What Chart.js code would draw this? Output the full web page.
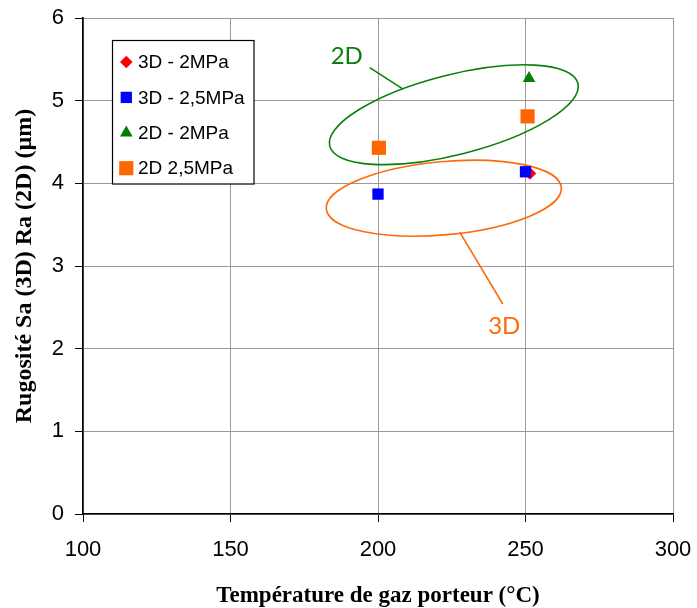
<!DOCTYPE html>
<html>
<head>
<meta charset="utf-8">
<script src="https://cdn.jsdelivr.net/npm/chart.js@4.4.1/dist/chart.umd.min.js"></script>
<style>
  html, body { margin: 0; padding: 0; background: #fff; }
  #wrap { width: 697px; height: 608px; position: relative; }
</style>
</head>
<body>
<div id="wrap"><canvas id="c" width="697" height="608"></canvas></div>
<script>
// ---- data ----
const xTickValues = [100, 150, 200, 250, 300];
const yTickValues = [0, 1, 2, 3, 4, 5, 6];
const seriesNames = ['3D - 2MPa', '3D - 2,5MPa', '2D - 2MPa', '2D 2,5MPa'];
const temp3D_2MPa = [251.5];
const rough3D_2MPa = [4.12];
const temp3D_25MPa = [200, 250];
const rough3D_25MPa = [3.87, 4.14];
const temp2D_2MPa = [251.2];
const rough2D_2MPa = [5.27];
const temp2D_25MPa = [200.3, 250.7];
const rough2D_25MPa = [4.43, 4.81];

// annotation anchors (data coordinates)
const groupLabels = ['2D', '3D'];
const groupCenterX = [225.7, 222.3];
const groupCenterY = [4.83, 3.82];
const leaderFromX = [197.2, 227.7];
const leaderFromY = [5.40, 3.41];
const leaderToX = [208.5, 242.3];
const leaderToY = [5.14, 2.54];
const labelX = [189.4, 242.8];
const labelY = [5.54, 2.27];

// ---- styling ----
const ellipseStyle = [
  { color: '#0a800a', a: 128, b: 40, rot: -14.2 },
  { color: '#ff6a0a', a: 118, b: 36.6, rot: -5.2 }
];
const seriesStyle = [
  { color: '#ff0000', shape: 'rectRot', r: 6.3, order: 2 },
  { color: '#0000ff', shape: 'rect', r: 8, order: 1 },
  { color: '#008000', shape: 'triangle', r: 7.3, order: 3 },
  { color: '#ff6600', shape: 'rect', r: 10, order: 4 }
];

function pts(xs, ys) { return xs.map((x, i) => ({ x: x, y: ys[i] })); }
const seriesData = [
  pts(temp3D_2MPa, rough3D_2MPa),
  pts(temp3D_25MPa, rough3D_25MPa),
  pts(temp2D_2MPa, rough2D_2MPa),
  pts(temp2D_25MPa, rough2D_25MPa)
];

function drawMarker(ctx, shape, r, x, y, color) {
  ctx.save();
  ctx.fillStyle = color;
  ctx.beginPath();
  if (shape === 'rect') {
    const s = r * Math.SQRT1_2;
    ctx.rect(x - s, y - s, 2 * s, 2 * s);
  } else if (shape === 'rectRot') {
    ctx.moveTo(x, y - r); ctx.lineTo(x + r, y); ctx.lineTo(x, y + r); ctx.lineTo(x - r, y);
    ctx.closePath();
  } else if (shape === 'triangle') {
    for (let k = 0; k < 3; k++) {
      const ang = -Math.PI / 2 + k * 2 * Math.PI / 3;
      const px = x + Math.cos(ang) * r, py = y + Math.sin(ang) * r;
      if (k === 0) ctx.moveTo(px, py); else ctx.lineTo(px, py);
    }
    ctx.closePath();
  }
  ctx.fill();
  ctx.restore();
}

const annotationPlugin = {
  id: 'groups',
  beforeDatasetsDraw(chart) {
    const ctx = chart.ctx, xs = chart.scales.x, ys = chart.scales.y;
    ctx.save();
    groupLabels.forEach((lab, i) => {
      const st = ellipseStyle[i];
      ctx.strokeStyle = st.color;
      ctx.lineWidth = 1.6;
      ctx.beginPath();
      ctx.ellipse(xs.getPixelForValue(groupCenterX[i]), ys.getPixelForValue(groupCenterY[i]),
        st.a, st.b, st.rot * Math.PI / 180, 0, 2 * Math.PI);
      ctx.stroke();
      ctx.beginPath();
      ctx.moveTo(xs.getPixelForValue(leaderFromX[i]), ys.getPixelForValue(leaderFromY[i]));
      ctx.lineTo(xs.getPixelForValue(leaderToX[i]), ys.getPixelForValue(leaderToY[i]));
      ctx.stroke();
      ctx.fillStyle = st.color;
      ctx.font = '24px Lato, "Open Sans", sans-serif';
      ctx.textAlign = 'center';
      ctx.textBaseline = 'middle';
      ctx.fillText(lab, xs.getPixelForValue(labelX[i]), ys.getPixelForValue(labelY[i]));
    });
    ctx.restore();
  }
};

const legendPlugin = {
  id: 'boxLegend',
  afterDraw(chart) {
    const ctx = chart.ctx;
    const bx = 112.5, by = 40.5, bw = 141.5, bh = 143.5;
    ctx.save();
    ctx.fillStyle = '#fff';
    ctx.fillRect(bx, by, bw, bh);
    ctx.strokeStyle = '#000';
    ctx.lineWidth = 1.2;
    ctx.strokeRect(bx, by, bw, bh);
    ctx.font = '19px "Liberation Sans", Arial, sans-serif';
    ctx.textBaseline = 'middle';
    ctx.textAlign = 'left';
    ctx.fillStyle = '#000';
    seriesNames.forEach((name, i) => {
      const y = 62 + i * 35.4;
      const st = seriesStyle[i];
      drawMarker(ctx, st.shape, st.r, 126.3, y, st.color);
      ctx.fillStyle = '#000';
      ctx.fillText(name, 138, y + 1);
    });
    ctx.restore();
  }
};

Chart.defaults.font.family = '"Liberation Sans", Arial, sans-serif';
Chart.defaults.color = '#000';

new Chart(document.getElementById('c'), {
  type: 'scatter',
  data: {
    datasets: seriesNames.map((name, i) => ({
      label: name,
      data: seriesData[i],
      pointStyle: seriesStyle[i].shape,
      pointRadius: seriesStyle[i].r,
      pointHoverRadius: seriesStyle[i].r,
      backgroundColor: seriesStyle[i].color,
      borderColor: seriesStyle[i].color,
      borderWidth: 0,
      order: seriesStyle[i].order
    }))
  },
  options: {
    responsive: false,
    animation: false,
    events: [],
    layout: { padding: { left: 0, top: 18, right: 24, bottom: 0 } },
    plugins: { legend: { display: false }, tooltip: { enabled: false } },
    scales: {
      x: {
        type: 'linear',
        min: 100, max: 300,
        afterBuildTicks(scale) { scale.ticks = xTickValues.map(v => ({ value: v })); },
        afterFit(scale) { scale.height = 94; scale.paddingLeft = 0; scale.paddingRight = 0; },
        grid: { color: '#9a9a9a', lineWidth: 1, tickColor: '#000', tickLength: 8, drawTicks: true },
        border: { color: '#000', width: 1.6 },
        ticks: { font: { size: 22 }, padding: 15, maxRotation: 0, color: '#000' },
        title: {
          display: true,
          text: 'Température de gaz porteur (°C)',
          font: { family: '"Liberation Serif", "Times New Roman", serif', size: 23, weight: 'bold', lineHeight: 1.05 },
          padding: { top: 0, bottom: 0 },
          color: '#000'
        }
      },
      y: {
        type: 'linear',
        min: 0, max: 6,
        afterBuildTicks(scale) { scale.ticks = yTickValues.map(v => ({ value: v })); },
        afterFit(scale) { scale.width = 83; scale.paddingTop = 0; scale.paddingBottom = 0; },
        grid: { color: '#9a9a9a', lineWidth: 1, tickColor: '#000', tickLength: 8, drawTicks: true },
        border: { color: '#000', width: 1.6 },
        ticks: { font: { size: 22 }, padding: 11, color: '#000' },
        title: {
          display: true,
          text: 'Rugosité Sa (3D) Ra (2D) (µm)',
          font: { family: '"Liberation Serif", "Times New Roman", serif', size: 24, weight: 'bold' },
          padding: { top: 10, bottom: 0 },
          color: '#000'
        }
      }
    }
  },
  plugins: [annotationPlugin, legendPlugin]
});
</script>
</body>
</html>
